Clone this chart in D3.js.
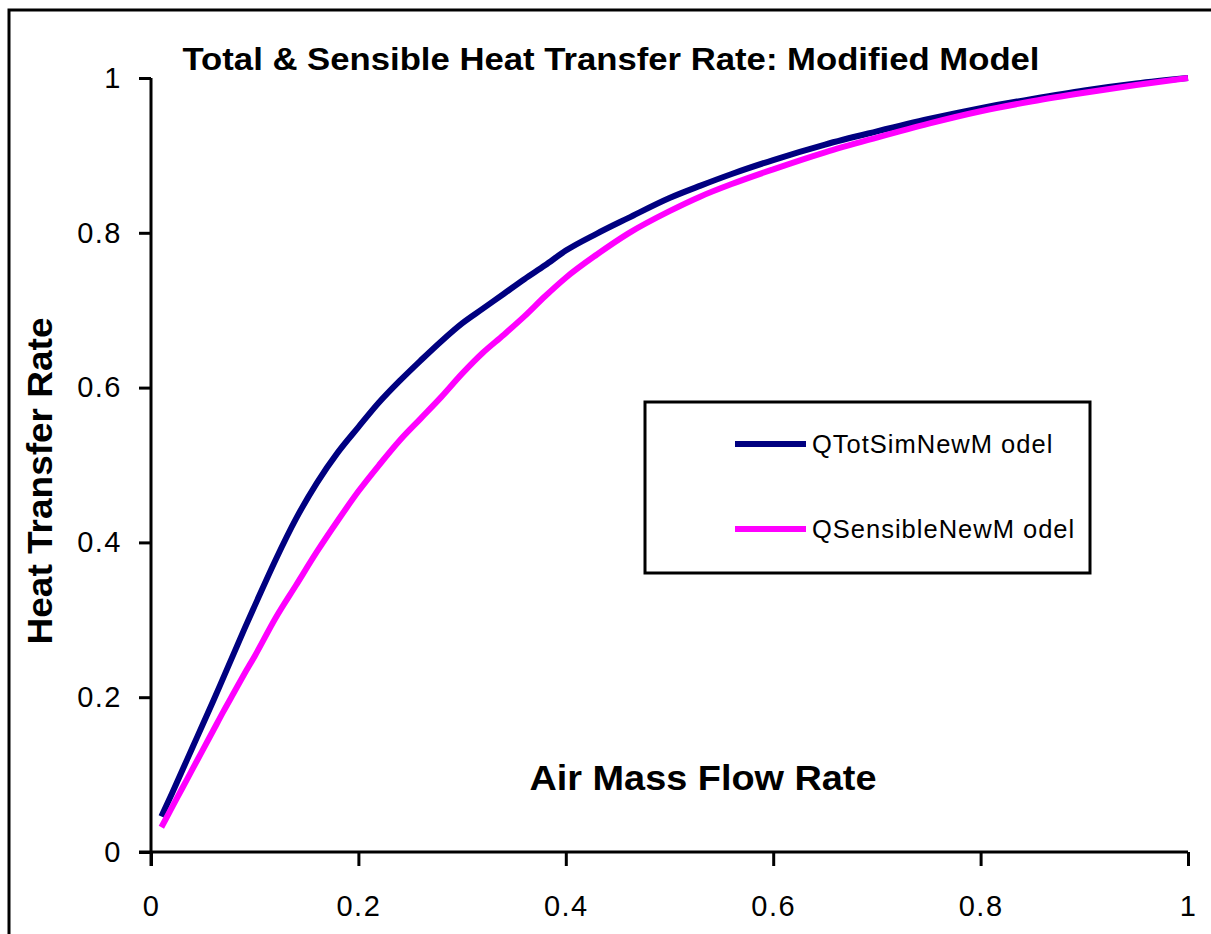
<!DOCTYPE html>
<html><head><meta charset="utf-8">
<script src="https://cdn.jsdelivr.net/npm/d3@7"></script>
<style>html,body{margin:0;padding:0;background:#fff;}svg{display:block;}</style>
</head><body>
<svg id="chart" width="1211" height="934"></svg>
<script>
const chartTitle = "Total & Sensible Heat Transfer Rate: Modified Model";
const xTitle = "Air Mass Flow Rate";
const yTitle = "Heat Transfer Rate";
const seriesNames = ["QTotSimNewM odel", "QSensibleNewM odel"];
const seriesColors = ["#000080", "#FF00FF"];
const xTicks = [0, 0.2, 0.4, 0.6, 0.8, 1];
const yTicks = [0, 0.2, 0.4, 0.6, 0.8, 1];

const xValues = [0.01,0.02,0.03,0.04,0.05,0.06,0.07,0.08,0.09,0.10,0.12,0.14,0.16,0.18,0.20,0.22,0.24,0.26,0.28,0.30,0.32,0.34,0.36,0.38,0.40,0.43,0.46,0.50,0.53,0.56,0.60,0.65,0.70,0.75,0.80,0.85,0.90,0.95,1.00];
const qTot = [0.046,0.075,0.105,0.135,0.165,0.195,0.226,0.257,0.288,0.318,0.377,0.431,0.477,0.516,0.549,0.581,0.609,0.635,0.660,0.683,0.702,0.721,0.740,0.758,0.777,0.799,0.819,0.845,0.861,0.876,0.894,0.914,0.931,0.947,0.961,0.973,0.984,0.993,1.000];
const qSens = [0.032,0.057,0.082,0.107,0.132,0.157,0.182,0.206,0.230,0.253,0.302,0.345,0.388,0.428,0.466,0.500,0.532,0.560,0.588,0.618,0.645,0.668,0.692,0.718,0.742,0.772,0.799,0.828,0.847,0.863,0.882,0.904,0.923,0.941,0.957,0.970,0.981,0.991,1.000];

const svg = d3.select("#chart");
const font = "Arial, 'Liberation Sans', sans-serif";

// outer chart frame
svg.append("rect").attr("x", 9).attr("y", 10).attr("width", 1400).attr("height", 1200)
  .attr("fill", "#fff").attr("stroke", "#000").attr("stroke-width", 3);

const x = d3.scaleLinear().domain([0, 1]).range([151, 1188]);
const y = d3.scaleLinear().domain([0, 1]).range([852, 78]);

// axes
const fmt = d => d3.format("~g")(d);
const gx = svg.append("g").attr("transform", `translate(0,${y(0)})`)
  .call(d3.axisBottom(x).tickValues(xTicks).tickFormat(fmt).tickSize(14).tickSizeOuter(0).tickPadding(29));
const gy = svg.append("g").attr("transform", `translate(${x(0)},0)`)
  .call(d3.axisLeft(y).tickValues(yTicks).tickFormat(fmt).tickSize(12).tickSizeOuter(0).tickPadding(17));
[gx, gy].forEach(g => {
  g.selectAll("path.domain").attr("stroke", "#000").attr("stroke-width", 3);
  g.selectAll(".tick line").attr("stroke", "#000").attr("stroke-width", 3);
  g.selectAll(".tick text").attr("fill", "#000").style("font-family", font)
    .style("font-size", "29px").style("letter-spacing", "1.5px");
});
gx.select("path.domain").attr("d", `M${x(0)-12},0H${x(1)}`);
gy.select("path.domain").attr("d", `M0,${y(0)+14}V${y(1)}`);

// lines
const data = [qTot, qSens];
const line = d3.line().x((d, i) => x(xValues[i])).y(d => y(d)).curve(d3.curveMonotoneX);
data.forEach((s, k) => {
  svg.append("path").datum(s).attr("d", line).attr("fill", "none")
    .attr("stroke", seriesColors[k]).attr("stroke-width", 6).attr("stroke-linejoin", "round");
});

// title
svg.append("text").attr("x", 611).attr("y", 70).attr("text-anchor", "middle")
  .style("font-family", font).style("font-weight", "bold").style("font-size", "31px")
  .attr("textLength", 857).attr("lengthAdjust", "spacingAndGlyphs").text(chartTitle);

// x title
svg.append("text").attr("x", 703).attr("y", 790).attr("text-anchor", "middle")
  .style("font-family", font).style("font-weight", "bold").style("font-size", "35px")
  .attr("textLength", 347).attr("lengthAdjust", "spacingAndGlyphs").text(xTitle);

// y title
svg.append("text").attr("transform", "translate(52,481) rotate(-90)").attr("text-anchor", "middle")
  .style("font-family", font).style("font-weight", "bold").style("font-size", "35px")
  .attr("textLength", 327).attr("lengthAdjust", "spacingAndGlyphs").text(yTitle);

// legend
const lg = svg.append("g");
lg.append("rect").attr("x", 645).attr("y", 402).attr("width", 445).attr("height", 171)
  .attr("fill", "#fff").attr("stroke", "#000").attr("stroke-width", 3);
const legY = [444, 529];
seriesNames.forEach((n, k) => {
  lg.append("line").attr("x1", 735).attr("x2", 806).attr("y1", legY[k]).attr("y2", legY[k])
    .attr("stroke", seriesColors[k]).attr("stroke-width", 6);
  lg.append("text").attr("x", 812).attr("y", legY[k] + 9)
    .style("font-family", font).style("font-size", "25.5px").style("letter-spacing", "1px")
    .text(n);
});
</script>
</body></html>
